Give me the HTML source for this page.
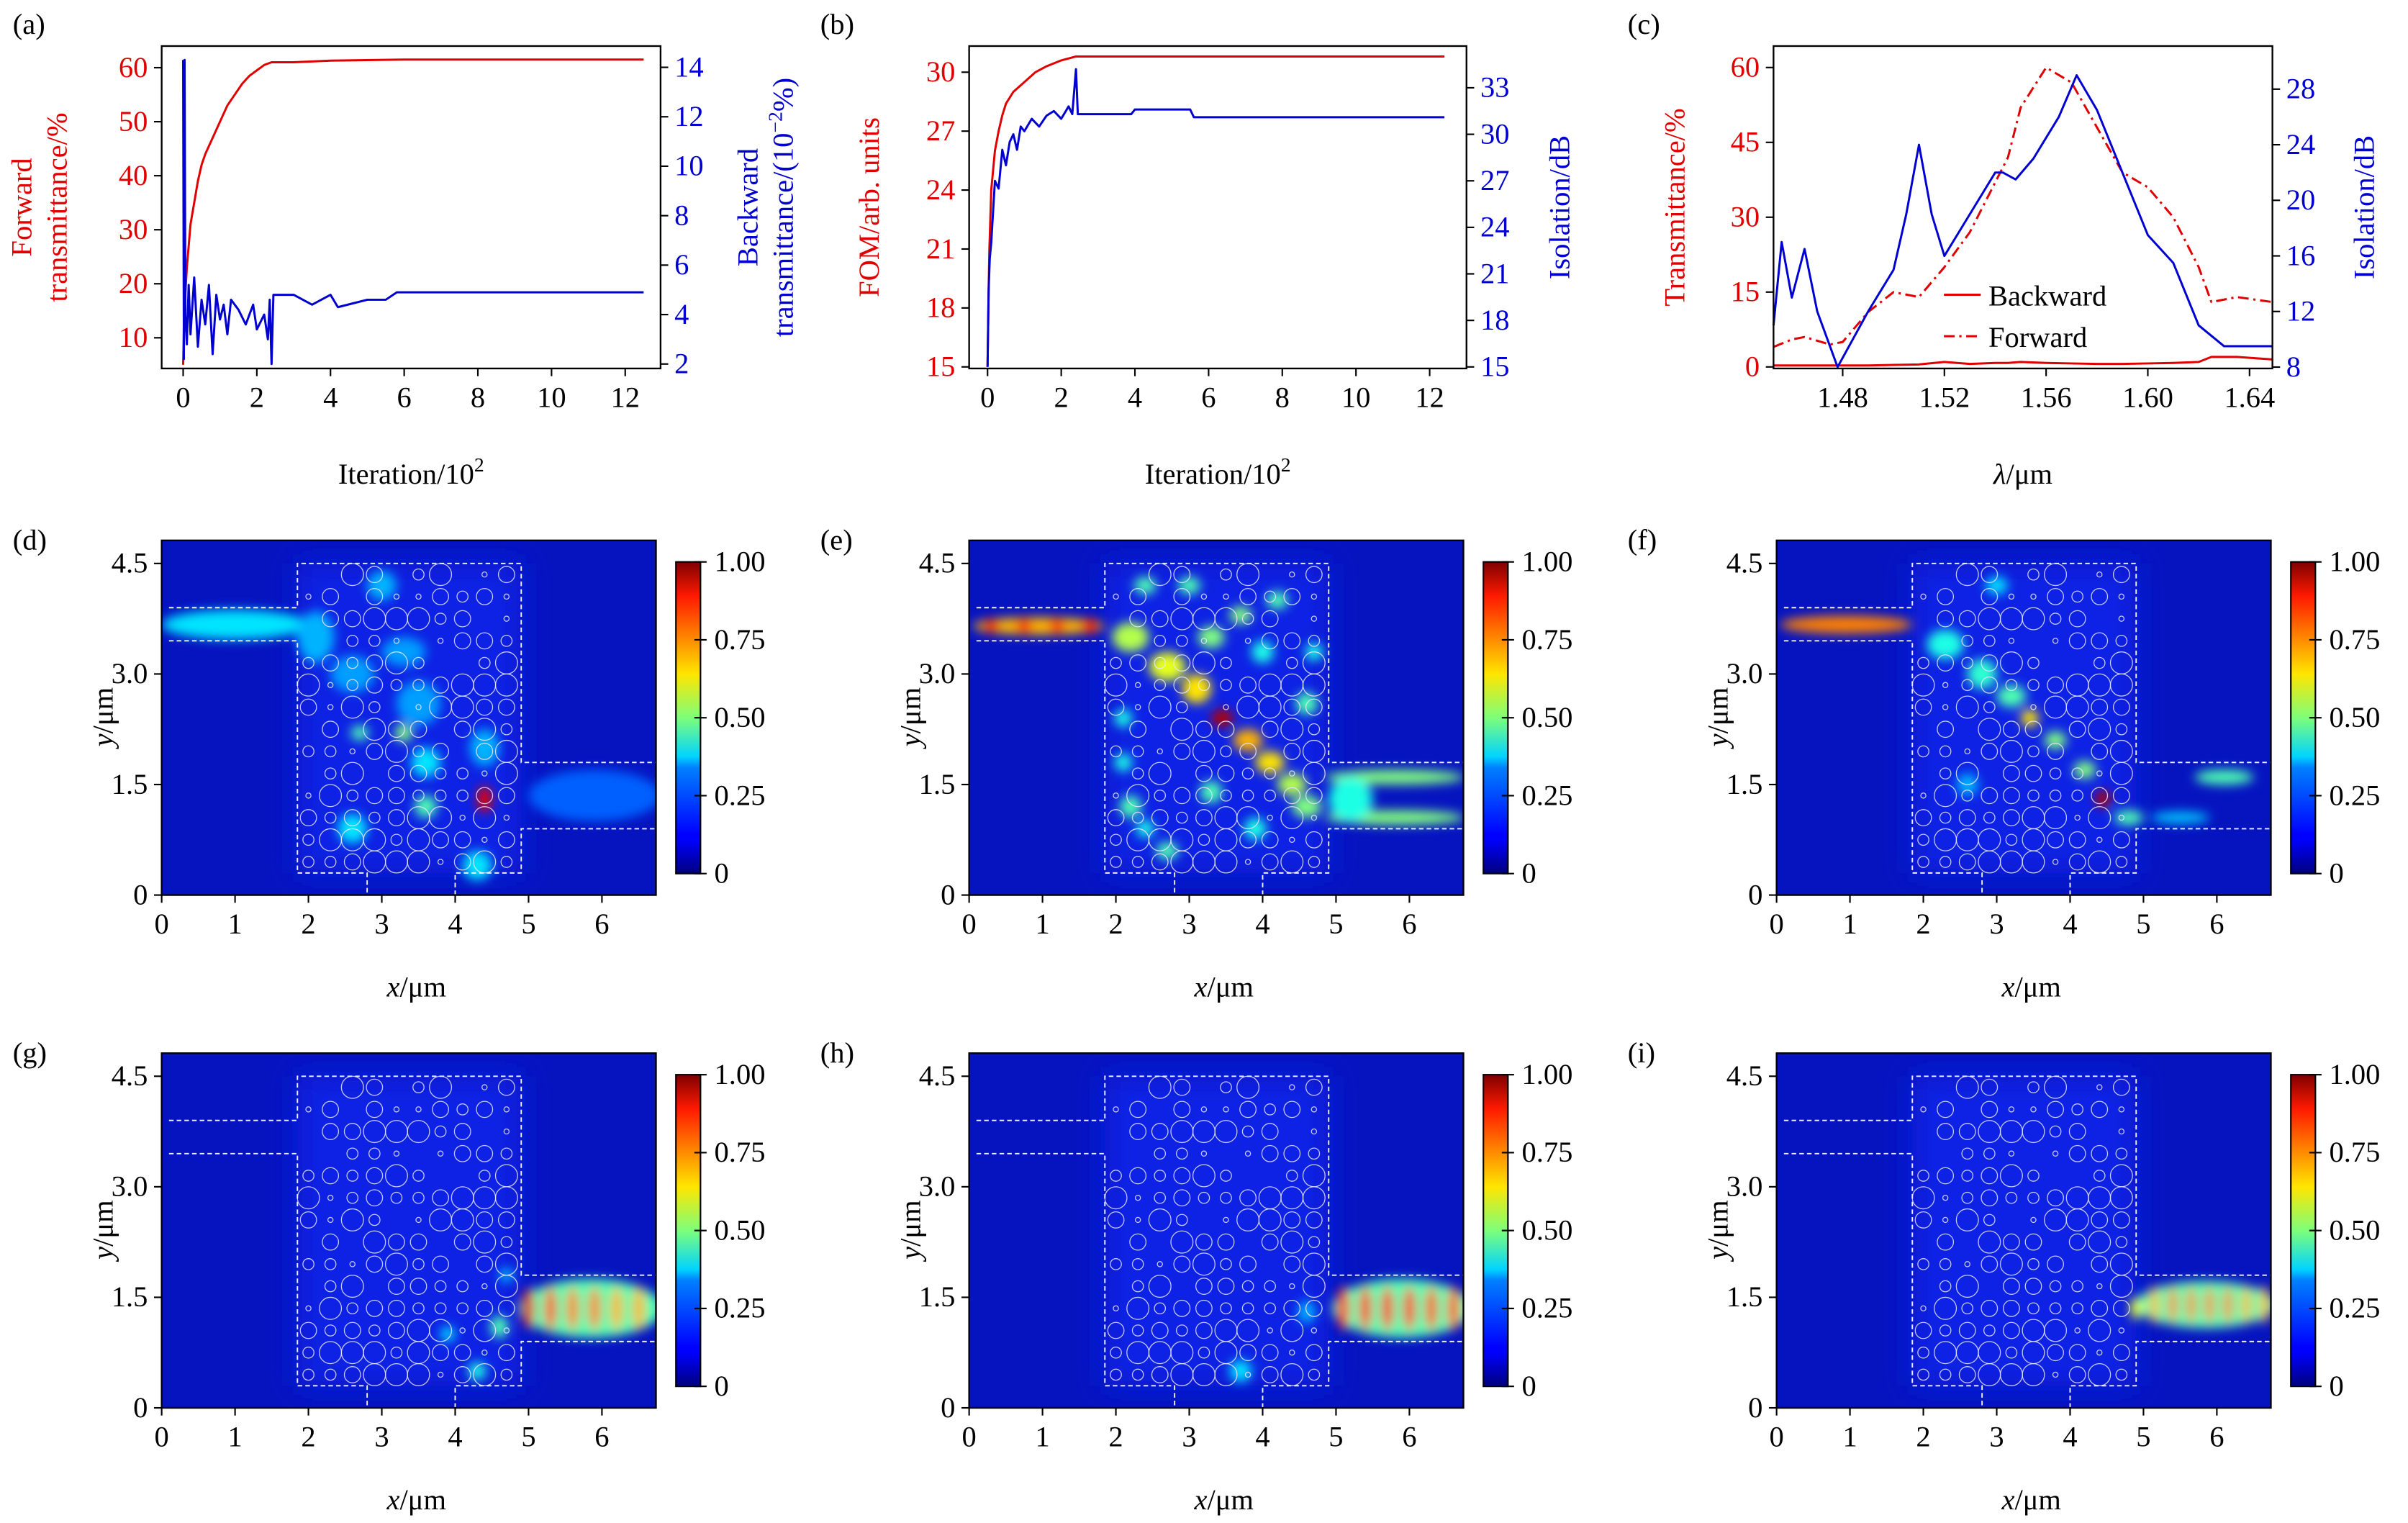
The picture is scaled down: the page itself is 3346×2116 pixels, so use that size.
<!DOCTYPE html>
<html><head><meta charset="utf-8">
<style>
html,body{margin:0;padding:0;background:#fff;}
svg{display:block;}
text{font-family:"Liberation Serif","DejaVu Serif",serif;}
</style></head>
<body>
<svg id="fig" xmlns="http://www.w3.org/2000/svg" width="3346" height="2116" viewBox="0 0 1568 992">
<defs>
<filter id="blur" x="-50%" y="-50%" width="200%" height="200%"><feGaussianBlur stdDeviation="3.5"/></filter>
<filter id="blur2" x="-50%" y="-50%" width="200%" height="200%"><feGaussianBlur stdDeviation="9"/></filter>
<linearGradient id="jetgrad" x1="0" y1="1" x2="0" y2="0">
<stop offset="0" stop-color="#00007f"/><stop offset="0.11" stop-color="#0000ff"/>
<stop offset="0.125" stop-color="#0000ff"/><stop offset="0.34" stop-color="#0080ff"/>
<stop offset="0.375" stop-color="#00d4ff"/><stop offset="0.5" stop-color="#7dff7a"/>
<stop offset="0.64" stop-color="#ffe600"/><stop offset="0.75" stop-color="#ff8c00"/>
<stop offset="0.89" stop-color="#ff1a00"/><stop offset="1" stop-color="#7f0000"/>
</linearGradient>
</defs>
</svg>
<script>
// ---------- Data ----------
const aIter = [0,0.02,0.05,0.1,0.15,0.2,0.3,0.4,0.5,0.6,0.8,1.0,1.2,1.4,1.6,1.8,2.0,2.2,2.4,2.6,3,4,6,8,12.5];
const aForward = [5,12,17,23,27,31,35,39,42,44,47,50,53,55,57,58.5,59.5,60.5,61,61,61,61.3,61.5,61.5,61.5];
const aBackIter = [0,0.02,0.04,0.06,0.1,0.15,0.2,0.3,0.4,0.5,0.6,0.7,0.8,0.9,1.0,1.1,1.2,1.3,1.5,1.7,1.9,2.0,2.2,2.3,2.35,2.4,2.45,3.0,3.5,4.0,4.2,5.0,5.5,5.8,12.5];
const aBack = [14.3,2.2,14.3,4,2.8,5.2,3.2,5.5,2.7,4.6,3.6,5.2,2.4,4.8,3.8,4.4,3.2,4.6,4.2,3.6,4.4,3.4,4.0,3.0,4.6,2.0,4.8,4.8,4.4,4.8,4.3,4.6,4.6,4.9,4.9];
const bIter = [0,0.03,0.05,0.1,0.2,0.3,0.4,0.5,0.7,1.0,1.3,1.6,2.0,2.4,3,5,8,12.4];
const bFOM = [15,19,21,24,26,27,27.8,28.4,29,29.5,30,30.3,30.6,30.8,30.8,30.8,30.8,30.8];
const bIsoIter = [0,0.03,0.06,0.1,0.15,0.2,0.3,0.4,0.5,0.6,0.7,0.8,0.9,1.0,1.2,1.4,1.6,1.8,2.0,2.2,2.3,2.4,2.45,3.0,3.9,4.0,5.5,5.6,12.4];
const bIso = [15,20,22,23,25,27,26.5,29,28,29.5,30,29,30.5,30.2,31,30.5,31.2,31.5,31,31.8,31.3,34.2,31.3,31.3,31.3,31.6,31.6,31.1,31.1];
const cLam = [1.4528,1.46,1.465,1.475,1.48,1.49,1.50,1.51,1.52,1.53,1.54,1.545,1.55,1.56,1.57,1.58,1.59,1.60,1.61,1.62,1.625,1.635,1.649];
const cForward = [4,5.5,6,4.5,5,11,15,14,20,27,37,42,52,60,57,48,39,36,30,20,13,14,13];
const cBackward = [0.3,0.3,0.3,0.3,0.3,0.3,0.4,0.5,1.0,0.6,0.8,0.8,1.0,0.8,0.7,0.6,0.6,0.7,0.8,1.0,2.0,2.0,1.5];
const cIsoLam = [1.4528,1.456,1.46,1.465,1.47,1.478,1.49,1.50,1.505,1.51,1.515,1.52,1.53,1.54,1.543,1.548,1.555,1.565,1.572,1.58,1.59,1.60,1.61,1.62,1.63,1.649];
const cIso = [11,17,13,16.5,12,8,12,15,19,24,19,16,19,22,22,21.5,23,26,29,26.5,22,17.5,15.5,11,9.5,9.5];
const rodRadiusCodes = ["0043024013","1303113231","0334442301","0022101332","2323420024","4123223444","3142014433","0304330342","2213423034","0240332214","1423322233","3232344141","2444243313","2234441342"];
const rodRadii = [0,0.035,0.075,0.11,0.15];
// field blobs: [x, y, rx, ry, value] in µm
const fieldD = [[1.0,3.67,1.0,0.2,0.35],[2.1,3.5,0.25,0.35,0.3],[3.0,4.2,0.2,0.2,0.3],[2.6,3.0,0.3,0.25,0.28],[3.3,3.3,0.3,0.2,0.28],[3.5,2.6,0.3,0.3,0.28],[2.7,2.2,0.12,0.1,0.45],[3.3,2.2,0.12,0.12,0.5],[3.6,1.8,0.2,0.2,0.35],[4.4,1.3,0.1,0.18,0.9],[3.6,1.2,0.15,0.15,0.45],[2.6,0.9,0.2,0.2,0.35],[4.3,0.4,0.2,0.2,0.35],[5.9,1.35,0.9,0.35,0.22],[4.4,2.0,0.2,0.25,0.3]];
const fieldE = [[0.95,3.65,0.9,0.12,0.7],[0.3,3.65,0.1,0.1,0.85],[0.75,3.65,0.1,0.1,0.85],[1.2,3.65,0.1,0.1,0.85],[1.65,3.65,0.12,0.1,0.85],[2.2,3.5,0.25,0.2,0.55],[2.7,3.1,0.25,0.2,0.6],[3.1,2.8,0.2,0.2,0.65],[3.45,2.4,0.15,0.12,0.95],[3.8,2.1,0.2,0.15,0.7],[4.1,1.8,0.2,0.15,0.65],[4.4,1.5,0.2,0.15,0.55],[4.6,1.2,0.2,0.15,0.5],[3.3,3.5,0.18,0.15,0.5],[3.7,3.8,0.15,0.12,0.5],[2.4,4.2,0.15,0.12,0.45],[3.0,4.2,0.15,0.12,0.45],[4.2,4.0,0.15,0.12,0.45],[4.6,2.6,0.15,0.15,0.45],[2.2,1.2,0.15,0.15,0.45],[2.7,0.6,0.15,0.12,0.45],[3.3,1.4,0.15,0.15,0.45],[5.8,1.6,0.95,0.1,0.5],[5.8,1.05,0.95,0.1,0.5],[5.2,1.3,0.3,0.3,0.4],[2.1,2.4,0.12,0.12,0.4],[2.1,1.8,0.12,0.12,0.4],[4.0,3.3,0.15,0.15,0.4],[4.7,3.3,0.12,0.12,0.4],[3.9,0.9,0.15,0.15,0.4],[2.4,0.9,0.12,0.12,0.4]];
const fieldF = [[0.95,3.67,0.9,0.12,0.75],[2.3,3.4,0.25,0.2,0.4],[2.8,3.0,0.2,0.2,0.42],[3.2,2.7,0.2,0.15,0.45],[3.45,2.4,0.12,0.12,0.65],[3.8,2.1,0.15,0.12,0.5],[4.2,1.7,0.15,0.12,0.5],[4.45,1.3,0.1,0.12,0.95],[4.8,1.05,0.2,0.1,0.45],[5.5,1.05,0.4,0.08,0.32],[6.1,1.6,0.4,0.1,0.45],[3.0,4.2,0.15,0.12,0.35],[2.6,1.5,0.15,0.15,0.3]];
const fieldG = [[5.85,1.35,0.98,0.4,0.45],[5.0,1.35,0.08,0.28,0.9],[5.3,1.35,0.08,0.3,0.8],[5.6,1.35,0.08,0.3,0.75],[5.9,1.35,0.08,0.3,0.75],[6.2,1.35,0.08,0.3,0.7],[6.5,1.35,0.08,0.3,0.7],[4.6,1.1,0.12,0.15,0.45],[4.3,0.5,0.12,0.12,0.4],[3.9,1.0,0.1,0.1,0.35],[4.7,1.8,0.1,0.1,0.3]];
const fieldH = [[5.9,1.35,0.95,0.4,0.45],[5.1,1.35,0.08,0.3,0.85],[5.4,1.35,0.08,0.3,0.85],[5.7,1.35,0.08,0.3,0.85],[6.0,1.35,0.08,0.3,0.85],[6.3,1.35,0.08,0.3,0.8],[6.6,1.35,0.08,0.3,0.8],[3.7,0.5,0.15,0.15,0.35],[4.6,1.3,0.12,0.15,0.3]];
const fieldI = [[5.85,1.4,0.95,0.32,0.45],[4.9,1.35,0.08,0.15,0.6],[5.15,1.4,0.06,0.26,0.7],[5.4,1.4,0.06,0.26,0.75],[5.65,1.4,0.06,0.26,0.75],[5.9,1.4,0.06,0.26,0.75],[6.15,1.4,0.06,0.26,0.75],[6.4,1.4,0.06,0.26,0.7],[6.65,1.4,0.06,0.26,0.7]];

// ---------- helpers ----------
const NS='http://www.w3.org/2000/svg';
const svg=document.getElementById('fig');
function mk(tag, attrs, parent){const e=document.createElementNS(NS,tag);for(const k in attrs)e.setAttribute(k,attrs[k]);(parent||svg).appendChild(e);return e;}
function txt(x,y,s,opt,parent){opt=opt||{};const t=mk('text',{x:x,y:y,'font-size':opt.fs||19,fill:opt.fill||'#000','text-anchor':opt.anchor||'middle'},parent);if(opt.rot!==undefined)t.setAttribute('transform','rotate('+opt.rot+' '+x+' '+y+')');t.innerHTML=s;return t;}
function lin(d0,d1,p0,p1){return v=>p0+(v-d0)*(p1-p0)/(d1-d0);}
function jet(v){v=Math.max(0,Math.min(1,v));const r=Math.max(0,Math.min(1,1.5-Math.abs(4*v-3)));const g=Math.max(0,Math.min(1,1.5-Math.abs(4*v-2)));const b=Math.max(0,Math.min(1,1.5-Math.abs(4*v-1)));return 'rgb('+Math.round(r*255)+','+Math.round(g*255)+','+Math.round(b*255)+')';}
function poly(xs,ys,fx,fy,color,dash,name,parent){let d='';for(let i=0;i<xs.length;i++)d+=(i?'L':'M')+fx(xs[i]).toFixed(2)+' '+fy(ys[i]).toFixed(2);const p=mk('path',{d:d,fill:'none',stroke:color,'stroke-width':1.4,'stroke-linejoin':'round'},parent);if(dash)p.setAttribute('stroke-dasharray',dash);return p;}

// ---------- line panels ----------
function linePanel(cfg){
  const g=mk('g',{});
  
  
  const {x0,x1,y0,y1}=cfg;
  const fx=lin(cfg.xd[0],cfg.xd[1],x0,x1), fl=lin(cfg.ld[0],cfg.ld[1],y1,y0), fr=lin(cfg.rd[0],cfg.rd[1],y1,y0);
  cfg.series(g,fx,fl,fr);
  const box=mk('rect',{x:x0,y:y0,width:x1-x0,height:y1-y0,fill:'none',stroke:'#000','stroke-width':1.1},g);
  
  
  cfg.xt.forEach((v,i)=>{const X=fx(v);mk('line',{x1:X,y1:y1,x2:X,y2:y1+5,stroke:'#000','stroke-width':1},g);const t=txt(X,y1+25,cfg.xtl[i],{},g);});
  cfg.lt.forEach((v,i)=>{const Y=fl(v);mk('line',{x1:x0,y1:Y,x2:x0-5,y2:Y,stroke:'#000','stroke-width':1},g);const t=txt(x0-9,Y+6,cfg.ltl[i],{anchor:'end',fill:'#e00000'},g);});
  cfg.rt.forEach((v,i)=>{const Y=fr(v);mk('line',{x1:x1,y1:Y,x2:x1+5,y2:Y,stroke:'#000','stroke-width':1},g);const t=txt(x1+9,Y+6,cfg.rtl[i],{anchor:'start',fill:'#0000d0'},g);});
  const xl=txt((x0+x1)/2,y1+75,cfg.xlabel,{},g);
  
  
  return g;
}
// (a)
linePanel({name:'panel-a',x0:105,x1:430,y0:30,y1:240,
 xd:[-0.583,12.96],ld:[4.32,64],rd:[1.82,14.86],
 xt:[0,2,4,6,8,10,12],xtl:['0','2','4','6','8','10','12'],lt:[10,20,30,40,50,60],ltl:['10','20','30','40','50','60'],
 rt:[2,4,6,8,10,12,14],rtl:['2','4','6','8','10','12','14'],xlabel:'Iteration/10<tspan font-size="13" dy="-8">2</tspan>',
 series:(g,fx,fl,fr)=>{poly(aIter,aForward,fx,fl,'#e00000',null,'forward-transmittance-line',g);poly(aBackIter,aBack,fx,fr,'#0000d0',null,'backward-transmittance-line',g);}});
// (b)
linePanel({name:'panel-b',x0:631,x1:955,y0:30,y1:240,
 xd:[-0.5,13.0],ld:[14.92,31.33],rd:[14.9,35.69],
 xt:[0,2,4,6,8,10,12],xtl:['0','2','4','6','8','10','12'],lt:[15,18,21,24,27,30],ltl:['15','18','21','24','27','30'],
 rt:[15,18,21,24,27,30,33],rtl:['15','18','21','24','27','30','33'],xlabel:'Iteration/10<tspan font-size="13" dy="-8">2</tspan>',
 series:(g,fx,fl,fr)=>{poly(bIter,bFOM,fx,fl,'#e00000',null,'fom-line',g);poly(bIsoIter,bIso,fx,fr,'#0000d0',null,'isolation-line',g);}});
// (c)
linePanel({name:'panel-c',x0:1155,x1:1480,y0:30,y1:240,
 xd:[1.4528,1.649],ld:[-0.31,64.3],rd:[7.9,31.1],
 xt:[1.48,1.52,1.56,1.60,1.64],xtl:['1.48','1.52','1.56','1.60','1.64'],lt:[0,15,30,45,60],ltl:['0','15','30','45','60'],
 rt:[8,12,16,20,24,28],rtl:['8','12','16','20','24','28'],xlabel:'<tspan font-style="italic">λ</tspan>/μm',
 series:(g,fx,fl,fr)=>{poly(cLam,cBackward,fx,fl,'#e00000',null,'backward-line',g);poly(cLam,cForward,fx,fl,'#e00000','7 3 1.5 3','forward-line',g);poly(cIsoLam,cIso,fx,fr,'#0000d0',null,'isolation-line',g);}});

[[20,135,'Forward','#e00000','left-axis-title-line1'],[43,135,'transmittance/%','#e00000','left-axis-title-line2'],
 [493,135,'Backward','#0000d0','right-axis-title-line1'],[516,135,'transmittance/(10<tspan font-size="13" dy="-7">−2</tspan><tspan dy="7">%)</tspan>','#0000d0','right-axis-title-line2'],
 [572,135,'FOM/arb. units','#e00000','left-axis-title'],[1022,135,'Isolation/dB','#0000d0','right-axis-title'],
 [1097,135,'Transmittance/%','#e00000','left-axis-title'],[1546,135,'Isolation/dB','#0000d0','right-axis-title']].forEach(a=>{
 const t=txt(a[0],a[1],a[2],{fill:a[3],rot:-90});
 
 
});
const lg=mk('g',{});


mk('line',{x1:1266,y1:192,x2:1290,y2:192,stroke:'#e00000','stroke-width':1.4},lg);
mk('line',{x1:1266,y1:219,x2:1290,y2:219,stroke:'#e00000','stroke-width':1.4,'stroke-dasharray':'7 3 1.5 3'},lg);
const le1=txt(1295,199,'Backward',{anchor:'start'},lg);


const le2=txt(1295,226,'Forward',{anchor:'start'},lg);



// ---------- heatmap panels ----------
function heatPanel(name,x0,y0,blobs,idx){
  const x1=x0+322,y1=y0+231;
  const fx=lin(0,1,x0,x0+47.8), fy=lin(0,1,y1,y1-48);
  const g=mk('g',{});
  
  
  const cp=mk('clipPath',{id:'cp'+idx},g);
  mk('rect',{x:x0,y:y0,width:x1-x0,height:y1-y0},cp);
  const hg=mk('g',{'clip-path':'url(#cp'+idx+')'},g);
  const bg=mk('rect',{x:x0,y:y0,width:x1-x0,height:y1-y0,fill:'#0614c0'},hg);
  
  
  mk('rect',{x:fx(1.85),y:fy(4.5),width:fx(4.9)-fx(1.85),height:fy(0.3)-fy(4.5),fill:'#0a22e4',filter:'url(#blur2)'},hg);
  const fg=mk('g',{filter:'url(#blur)'},hg);
  blobs.forEach(b=>{
    const e=mk('ellipse',{cx:fx(b[0]),cy:fy(b[1]),rx:b[2]*47.8,ry:b[3]*48,fill:jet(b[4])},fg);
    
    
  });
  rodRadiusCodes.forEach((row,ri)=>{for(let ci=0;ci<row.length;ci++){const r=rodRadii[+row[ci]];if(!r)continue;
    const c=mk('circle',{cx:fx(2.0+0.3*ci),cy:fy(4.35-0.3*ri),r:r*48,fill:'none',stroke:'#e8e8ff','stroke-width':0.6,opacity:0.85},hg);
    
    }});
  const pts=[[0.1,3.9],[1.85,3.9],[1.85,4.5],[4.9,4.5],[4.9,1.8],[6.8,1.8]];
  const pts2=[[0.1,3.45],[1.85,3.45],[1.85,0.3],[2.8,0.3],[2.8,0]];
  const pts3=[[4.0,0],[4.0,0.3],[4.9,0.3],[4.9,0.9],[6.8,0.9]];
  [pts,pts2,pts3].forEach(p=>{const pl=mk('polyline',{points:p.map(q=>fx(q[0])+','+fy(q[1])).join(' '),fill:'none',stroke:'#f0f0ff','stroke-width':0.9,'stroke-dasharray':'3 2'},hg);
    
    });
  mk('rect',{x:x0,y:y0,width:x1-x0,height:y1-y0,fill:'none',stroke:'#000','stroke-width':1.1},g);
  [0,1,2,3,4,5,6].forEach(v=>{const X=fx(v);mk('line',{x1:X,y1:y1,x2:X,y2:y1+5,stroke:'#000'},g);const t=txt(X,y1+25,String(v),{},g);});
  [[0,'0'],[1.5,'1.5'],[3,'3.0'],[4.5,'4.5']].forEach(v=>{const Y=fy(v[0]);mk('line',{x1:x0,y1:Y,x2:x0-5,y2:Y,stroke:'#000'},g);const t=txt(x0-9,Y+6,v[1],{anchor:'end'},g);});
  const xl=txt((x0+x1)/2+5,y1+66,'<tspan font-style="italic">x</tspan>/μm',{},g);
  
  
  const yl=txt(x0-32,y0+115,'<tspan font-style="italic">y</tspan>/μm',{rot:-90},g);
  
  
  const cx=x0+335, cy0=y0+14, cy1=y0+217;
  const cb=mk('rect',{x:cx,y:cy0,width:16,height:cy1-cy0,fill:'url(#jetgrad)',stroke:'#000','stroke-width':1},g);
  
  
  [[1,'1.00'],[0.75,'0.75'],[0.5,'0.50'],[0.25,'0.25'],[0,'0']].forEach(v=>{const Y=cy1-(cy1-cy0)*v[0];mk('line',{x1:cx+16,y1:Y,x2:cx+20,y2:Y,stroke:'#000'},g);mk('line',{x1:cx+12,y1:Y,x2:cx+16,y2:Y,stroke:'#000'},g);const t=txt(cx+25,Y+6,v[1],{anchor:'start'},g);});
}
heatPanel('panel-d',105,352,fieldD,1);
heatPanel('panel-e',631,352,fieldE,2);
heatPanel('panel-f',1157,352,fieldF,3);
heatPanel('panel-g',105,686,fieldG,4);
heatPanel('panel-h',631,686,fieldH,5);
heatPanel('panel-i',1157,686,fieldI,6);

[[8,22,'(a)'],[534,22,'(b)'],[1060,22,'(c)'],[8,358,'(d)'],[534,358,'(e)'],[1060,358,'(f)'],[8,692,'(g)'],[534,692,'(h)'],[1060,692,'(i)']].forEach(p=>{
 const t=txt(p[0],p[1],p[2],{anchor:'start'});
 
 
});
</script>
</body></html>
